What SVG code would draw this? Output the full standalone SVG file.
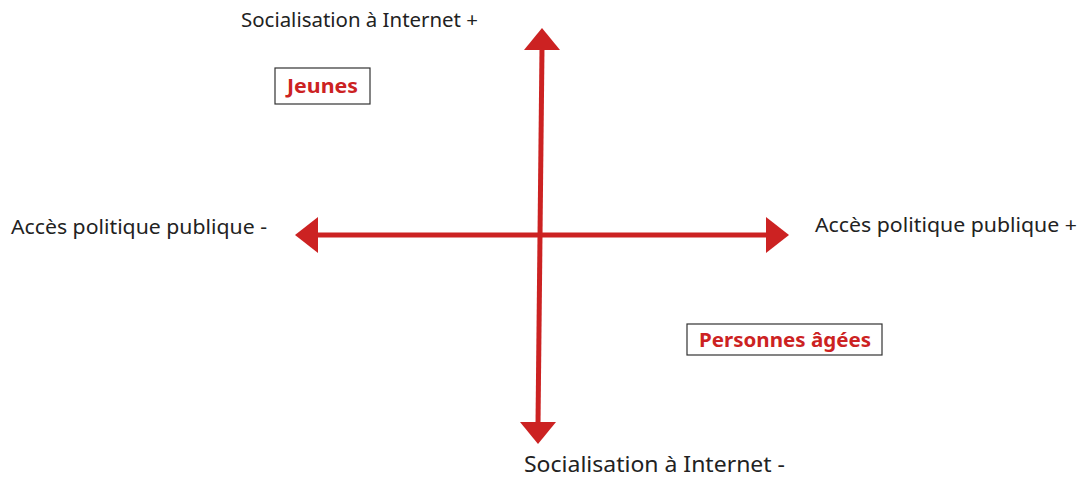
<svg xmlns="http://www.w3.org/2000/svg" width="1080" height="477" viewBox="0 0 1080 477">
  <style>
    .axis-label { font-family: "Noto Sans", "Liberation Sans", sans-serif; fill: #222; }
    .group-box { fill: #fff; stroke: #333; stroke-width: 1.2; }
    .group-text { font-family: "Noto Sans", "Liberation Sans", sans-serif; font-weight: 700; fill: #cc2222; }
    .axis { stroke: #cc2222; stroke-width: 5; fill: none; }
    .head { fill: #cc2222; }
  </style>
  <rect width="1080" height="477" fill="#fff"/>

  <g id="connectors">
    <!-- horizontal axis -->
    <line class="axis" x1="316" y1="235" x2="767" y2="235"/>
    <polygon class="head" points="295,235 318,217 318,253"/>
    <polygon class="head" points="789,235 766,217 766,253"/>
    <!-- vertical axis -->
    <line class="axis" x1="542" y1="48" x2="538" y2="424"/>
    <polygon class="head" points="542,28 524,50 560,50"/>
    <polygon class="head" points="538,444 520,422 556,422"/>
  </g>

  <g id="label-top">
    <text class="axis-label" x="241" y="27" font-size="19" textLength="237" lengthAdjust="spacingAndGlyphs">Socialisation à Internet +</text>
  </g>
  <g id="label-bottom">
    <text class="axis-label" x="524" y="472" font-size="21" textLength="261" lengthAdjust="spacingAndGlyphs">Socialisation à Internet -</text>
  </g>
  <g id="label-left">
    <text class="axis-label" x="11" y="234" font-size="19" textLength="256" lengthAdjust="spacingAndGlyphs">Accès politique publique -</text>
  </g>
  <g id="label-right">
    <text class="axis-label" x="815" y="232" font-size="19" textLength="262" lengthAdjust="spacingAndGlyphs">Accès politique publique +</text>
  </g>

  <g id="node-jeunes">
    <rect class="group-box" x="275" y="68" width="95" height="36"/>
    <text class="group-text" x="287" y="93" font-size="19" textLength="71" lengthAdjust="spacingAndGlyphs">Jeunes</text>
  </g>
  <g id="node-personnes-agees">
    <rect class="group-box" x="687" y="324" width="195" height="31"/>
    <text class="group-text" x="699" y="347" font-size="19" textLength="172" lengthAdjust="spacingAndGlyphs">Personnes âgées</text>
  </g>
</svg>
